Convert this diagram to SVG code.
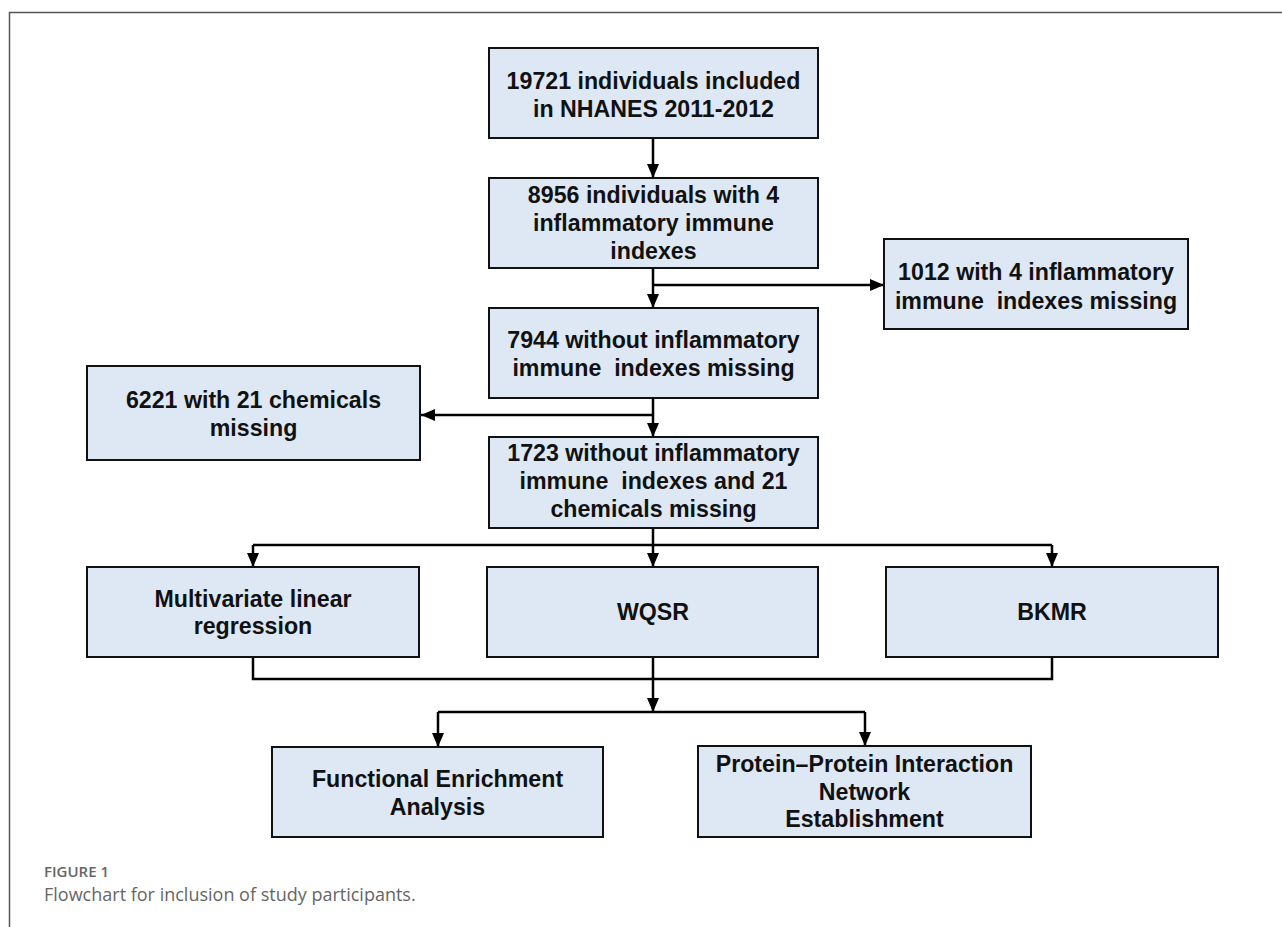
<svg xmlns="http://www.w3.org/2000/svg" width="1282" height="927" viewBox="0 0 1282 927">
<defs>
<marker id="ah" markerUnits="userSpaceOnUse" markerWidth="14" markerHeight="14" viewBox="0 0 14 14" refX="14" refY="7" orient="auto">
<path d="M0,1 L14,7 L0,13 Z" fill="#000"/>
</marker>
<style>
.box{fill:#dde8f4;stroke:#111;stroke-width:2}
.t{font-family:"Liberation Sans",Arial,sans-serif;font-weight:bold;font-size:23.2px;fill:#111;text-anchor:middle}
.c{fill:none;stroke:#000;stroke-width:2.5}
.a{fill:none;stroke:#000;stroke-width:2.5;marker-end:url(#ah)}
</style>
</defs>
<rect width="1282" height="927" fill="#fff"/>
<path d="M9.5,927 V12.5 H1282" fill="none" stroke="#555" stroke-width="1.5"/>

<g id="connectors">
<path class="a" d="M653,138 V178"/>
<path class="a" d="M653,268 V308"/>
<path class="a" d="M653,285 H884"/>
<path class="a" d="M653,398 V437"/>
<path class="a" d="M653,415 H421"/>
<path class="c" d="M653,528 V545"/>
<path class="c" d="M253,545 H1052"/>
<path class="a" d="M253,545 V567"/>
<path class="a" d="M653,545 V567"/>
<path class="a" d="M1052,545 V567"/>
<path class="c" d="M253,657 V679 H1052 V657"/>
<path class="c" d="M653,657 V679"/>
<path class="a" d="M653,679 V712"/>
<path class="c" d="M438,712 H865"/>
<path class="a" d="M438,712 V747"/>
<path class="a" d="M865,712 V746"/>
</g>

<g id="n1"><rect class="box" x="489" y="48" width="329" height="90"/>
<text class="t" x="653.5" y="89">19721 individuals included</text>
<text class="t" x="653.5" y="117">in NHANES 2011-2012</text></g>

<g id="n2"><rect class="box" x="489" y="178" width="329" height="90"/>
<text class="t" x="653.5" y="203">8956 individuals with 4</text>
<text class="t" x="653.5" y="231">inflammatory immune</text>
<text class="t" x="653.5" y="259">indexes</text></g>

<g id="n3"><rect class="box" x="884" y="239" width="304" height="90"/>
<text class="t" x="1036" y="280">1012 with 4 inflammatory</text>
<text class="t" x="1036" y="309" xml:space="preserve">immune  indexes missing</text></g>

<g id="n4"><rect class="box" x="489" y="308" width="329" height="90"/>
<text class="t" x="653.5" y="348">7944 without inflammatory</text>
<text class="t" x="653.5" y="376" xml:space="preserve">immune  indexes missing</text></g>

<g id="n5"><rect class="box" x="87" y="366" width="333" height="94"/>
<text class="t" x="253.5" y="408">6221 with 21 chemicals</text>
<text class="t" x="253.5" y="436">missing</text></g>

<g id="n6"><rect class="box" x="489" y="437" width="329" height="91"/>
<text class="t" x="653.5" y="461">1723 without inflammatory</text>
<text class="t" x="653.5" y="489" xml:space="preserve">immune  indexes and 21</text>
<text class="t" x="653.5" y="517">chemicals missing</text></g>

<g id="n7"><rect class="box" x="87" y="567" width="332" height="90"/>
<text class="t" x="253" y="607">Multivariate linear</text>
<text class="t" x="253" y="634">regression</text></g>

<g id="n8"><rect class="box" x="487" y="567" width="331" height="90"/>
<text class="t" x="653" y="620">WQSR</text></g>

<g id="n9"><rect class="box" x="886" y="567" width="332" height="90"/>
<text class="t" x="1052" y="620">BKMR</text></g>

<g id="n10"><rect class="box" x="272" y="747" width="331" height="90"/>
<text class="t" x="437.5" y="787">Functional Enrichment</text>
<text class="t" x="437.5" y="815">Analysis</text></g>

<g id="n11"><rect class="box" x="698" y="746" width="333" height="91"/>
<text class="t" x="864.5" y="772">Protein–Protein Interaction</text>
<text class="t" x="864.5" y="800">Network</text>
<text class="t" x="864.5" y="827">Establishment</text></g>

<g id="caption">
<text x="44" y="877" font-family="'Open Sans','Noto Sans',sans-serif" font-weight="600" font-size="15" fill="#666">FIGURE 1</text>
<text x="44" y="901" font-family="'Open Sans','Noto Sans',sans-serif" font-size="18" fill="#666">Flowchart for inclusion of study participants.</text>
</g>
</svg>
